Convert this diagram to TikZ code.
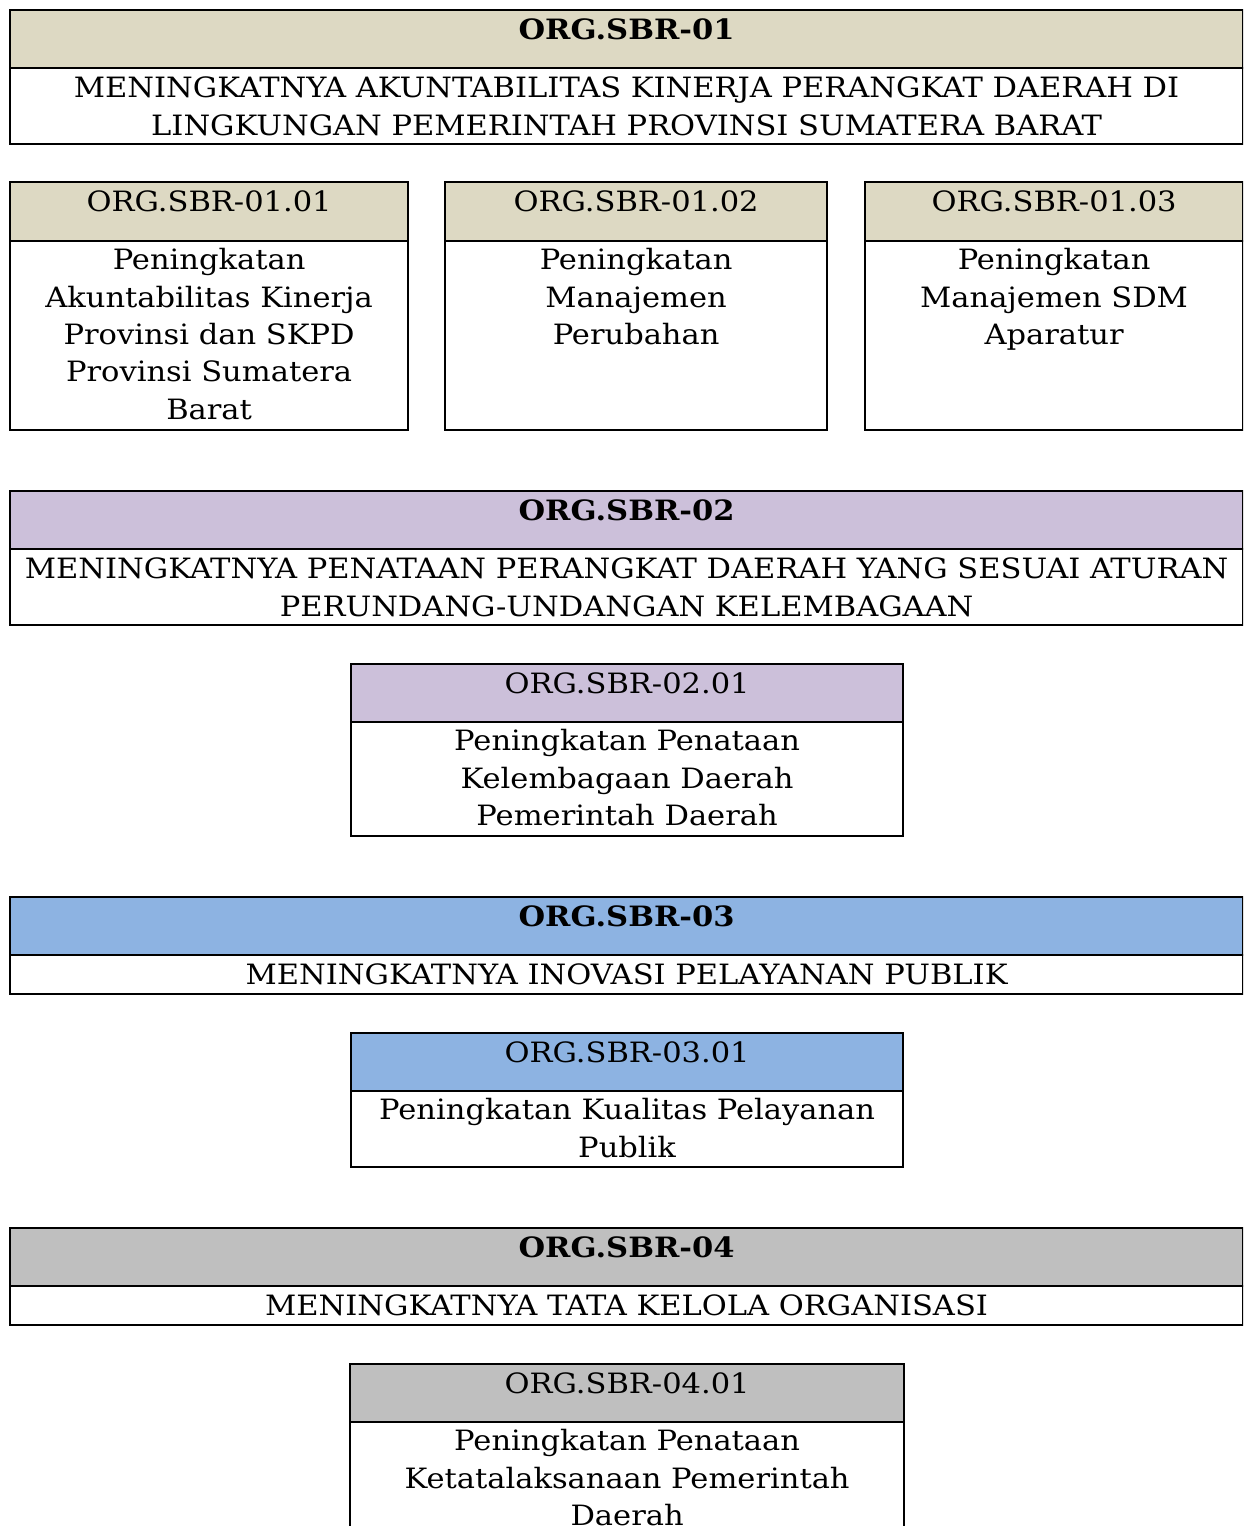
\documentclass[tikz,border=0pt]{standalone}
\usepackage{fontspec}
\setmainfont[FakeStretch=1.09]{DejaVu Serif}
\definecolor{cbeige}{HTML}{DDD9C3}
\definecolor{clav}{HTML}{CCC0DA}
\definecolor{cblue}{HTML}{8DB3E2}
\definecolor{cgray}{HTML}{BFBFBF}
\tikzset{
  boxframe/.style={draw=black, line width=1.1pt, inner sep=0pt, anchor=north west},
  txt/.style={inner sep=0pt, anchor=north, align=center, font=\fontsize{14}{18.7}\selectfont},
  boldtxt/.style={txt, font=\fontsize{14}{18.7}\selectfont\bfseries},
}
% #1 name, #2 x1, #3 x2, #4 ytop, #5 ymid, #6 ybot, #7 colour, #8 head style, #9 head text
\newcommand\orgblock[9]{%
  \node[boxframe, fill=#7, minimum width={(#3-#2)*0.5pt}, minimum height={(#5-#4)*0.5pt}] (#1h) at (#2,#4) {};
  \node[boxframe, fill=white, minimum width={(#3-#2)*0.5pt}, minimum height={(#6-#5)*0.5pt}] (#1b) at (#2,#5) {};
  \node[#8] (#1ht) at ([yshift=-4.8pt]#1h.north) {#9};
}
\begin{document}
\begin{tikzpicture}[x=0.5pt, y=-0.5pt]
\useasboundingbox (0,0) rectangle (1243,1526);
\clip (0,0) rectangle (1243,1526);
\fill[white] (0,0) rectangle (1243,1526);

% block 1
\orgblock{a}{9}{1242}{9}{67}{143}{cbeige}{boldtxt}{ORG.SBR-01}
\node[txt] (abt) at ([yshift=-4.8pt]ab.north) {MENINGKATNYA AKUNTABILITAS KINERJA PERANGKAT DAERAH DI\\LINGKUNGAN PEMERINTAH PROVINSI SUMATERA BARAT};

\orgblock{aa}{9}{407}{181}{240}{429}{cbeige}{txt}{ORG.SBR-01.01}
\node[txt] (aabt) at ([yshift=-4pt]aab.north) {Peningkatan\\Akuntabilitas Kinerja\\Provinsi dan SKPD\\Provinsi Sumatera\\Barat};

\orgblock{ab}{444}{826}{181}{240}{429}{cbeige}{txt}{ORG.SBR-01.02}
\node[txt] (abbt) at ([yshift=-4pt]abb.north) {Peningkatan\\Manajemen\\Perubahan};

\orgblock{ac}{864}{1242}{181}{240}{429}{cbeige}{txt}{ORG.SBR-01.03}
\node[txt] (acbt) at ([yshift=-4pt]acb.north) {Peningkatan\\Manajemen SDM\\Aparatur};

% block 2
\orgblock{b}{9}{1242}{490}{548}{624}{clav}{boldtxt}{ORG.SBR-02}
\node[txt] (bbt) at ([yshift=-4.8pt]bb.north) {MENINGKATNYA PENATAAN PERANGKAT DAERAH YANG SESUAI ATURAN\\PERUNDANG-UNDANGAN KELEMBAGAAN};

\orgblock{ba}{350}{902}{663}{721}{835}{clav}{txt}{ORG.SBR-02.01}
\node[txt] (babt) at ([yshift=-4pt]bab.north) {Peningkatan Penataan\\Kelembagaan Daerah\\Pemerintah Daerah};

% block 3
\orgblock{c}{9}{1242}{896}{954}{993}{cblue}{boldtxt}{ORG.SBR-03}
\node[txt] (cbt) at ([yshift=-4.8pt]cb.north) {MENINGKATNYA INOVASI PELAYANAN PUBLIK};

\orgblock{ca}{350}{902}{1032}{1090}{1166}{cblue}{txt}{ORG.SBR-03.01}
\node[txt] (cabt) at ([yshift=-4pt]cab.north) {Peningkatan Kualitas Pelayanan\\Publik};

% block 4
\orgblock{d}{9}{1242}{1227}{1285}{1324}{cgray}{boldtxt}{ORG.SBR-04}
\node[txt] (dbt) at ([yshift=-4.8pt]db.north) {MENINGKATNYA TATA KELOLA ORGANISASI};

\orgblock{da}{349}{903}{1363}{1421}{1560}{cgray}{txt}{ORG.SBR-04.01}
\node[txt] (dabt) at ([yshift=-4pt]dab.north) {Peningkatan Penataan\\Ketatalaksanaan Pemerintah\\Daerah};
\end{tikzpicture}
\end{document}
